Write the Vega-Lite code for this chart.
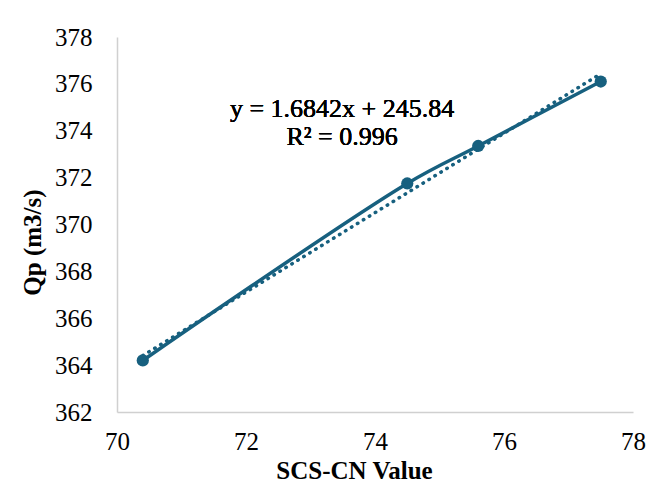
{
  "$schema": "https://vega.github.io/schema/vega-lite/v6.json",
  "autosize": {"type": "none"},
  "width": 516,
  "height": 375,
  "padding": {"left": 117, "top": 37, "right": 32, "bottom": 73},
  "background": "white",
  "config": {
    "view": {"stroke": null},
    "axis": {
      "grid": false,
      "ticks": false,
      "tickSize": 0,
      "labelFlush": false,
      "labelOverlap": false,
      "domainColor": "#d0d0d0",
      "domainWidth": 1.5,
      "labelFont": "Liberation Serif",
      "labelFontSize": 25,
      "labelColor": "#000000",
      "titleFont": "Liberation Serif",
      "titleFontSize": 25,
      "titleFontWeight": "bold",
      "titleColor": "#000000"
    }
  },
  "data": {
    "values": [
      {"cn": 70.4, "qp": 364.2},
      {"cn": 74.5, "qp": 371.75},
      {"cn": 75.6, "qp": 373.35},
      {"cn": 77.5, "qp": 376.1}
    ]
  },
  "layer": [
    {
      "transform": [{"regression": "qp", "on": "cn", "method": "linear"}],
      "mark": {"type": "line", "color": "#17607f", "strokeWidth": 3.5, "strokeDash": [0.5, 6.5], "strokeCap": "round"},
      "encoding": {
        "x": {"field": "cn", "type": "quantitative"},
        "y": {"field": "qp", "type": "quantitative"}
      }
    },
    {
      "mark": {"type": "line", "color": "#17607f", "strokeWidth": 3.5, "interpolate": "catmull-rom"},
      "encoding": {
        "x": {
          "field": "cn", "type": "quantitative",
          "scale": {"domain": [70, 78], "nice": false, "zero": false},
          "axis": {"values": [70, 72, 74, 76, 78], "format": "d", "labelPadding": 17, "title": "SCS-CN Value", "titleX": 237, "titleY": 58, "titleBaseline": "middle"}
        },
        "y": {
          "field": "qp", "type": "quantitative",
          "scale": {"domain": [362, 378], "nice": false, "zero": false},
          "axis": {"values": [362, 364, 366, 368, 370, 372, 374, 376, 378], "format": "d", "labelPadding": 25, "title": "Qp (m3/s)", "titleX": -85, "titleY": 205, "titleBaseline": "middle", "titleAngle": -90}
        }
      }
    },
    {
      "mark": {"type": "circle", "color": "#17607f", "opacity": 1, "size": 150},
      "encoding": {
        "x": {"field": "cn", "type": "quantitative"},
        "y": {"field": "qp", "type": "quantitative"}
      }
    },
    {
      "mark": {"type": "text", "font": "Liberation Serif", "fontSize": 26, "fontWeight": "normal", "fill": "#000000", "stroke": null, "strokeWidth": 0, "align": "center", "baseline": "middle", "lineHeight": 28},
      "encoding": {
        "x": {"datum": 73.49, "type": "quantitative"},
        "y": {"datum": 374.93, "type": "quantitative"},
        "text": {"value": ["y = 1.6842x + 245.84", "R² = 0.996"]}
      }
    }
  ]
}
